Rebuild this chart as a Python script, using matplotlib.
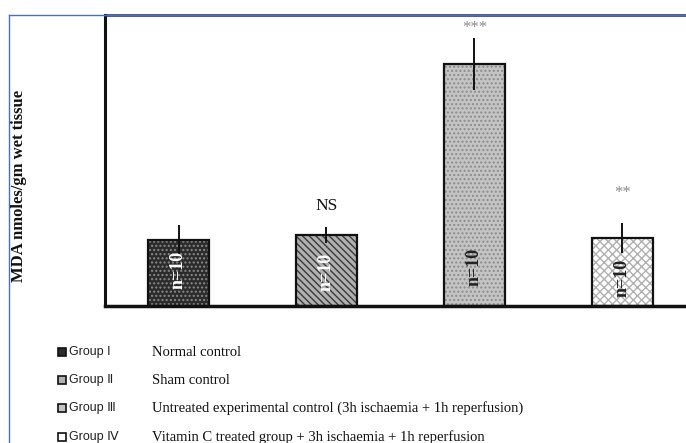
import matplotlib
matplotlib.use("Agg")
import matplotlib.pyplot as plt
from matplotlib.lines import Line2D

# ---- data ----
groups = ["Group I", "Group \u2161", "Group \u2162", "Group \u2163"]
descriptions = ["Normal control", "Sham control",
                "Untreated experimental control (3h ischaemia + 1h reperfusion)",
                "Vitamin C treated group + 3h ischaemia + 1h reperfusion"]
mda_values = [6.6, 7.1, 24.2, 6.8]
mda_errors = [1.5, 0.8, 2.6, 1.5]
sig_labels = ["", "NS", "***", "**"]
n_labels = ["n=10", "n=10", "n=10", "n=10"]

face_colors = ["#2b2b2b", "#b0b0b0", "#c4c4c4", "#ffffff"]
hatch_colors = ["#8a8a8a", "#3a3a3a", "#8c8c8c", "#b0b0b0"]
hatches = ["....", "\\\\\\\\\\", "....", "xxxx"]
n_colors = ["white", "white", "#222222", "#222222"]

serif = ["Liberation Serif", "DejaVu Serif"]

fig = plt.figure(figsize=(6.86, 4.43), dpi=100)
ax = fig.add_axes([105/686, 1-306/443, 1-105/686, (306-15)/443])

x = list(range(len(mda_values)))
width = 0.41
ax.bar(x, mda_values, width=width, color=face_colors, hatch=hatches,
       edgecolor=hatch_colors, linewidth=0, zorder=2)
ax.bar(x, mda_values, width=width, fill=False, edgecolor="#111111",
       linewidth=1.6, zorder=3)
ax.errorbar(x, mda_values, yerr=mda_errors, fmt="none", ecolor="#111111",
            elinewidth=1.4, capsize=0, zorder=4)

ax.set_xlim(-0.497, 3.43)
ax.set_ylim(0, 29.1)
ax.set_xticks([])
ax.set_yticks([])
ax.spines["right"].set_visible(False)
ax.spines["top"].set_color("#1a2a5a")
ax.spines["top"].set_linewidth(1.8)
ax.spines["left"].set_linewidth(2.2)
ax.spines["bottom"].set_linewidth(2.5)
ax.spines["left"].set_color("#111111")
ax.spines["bottom"].set_color("#111111")

# significance labels
sig_offsets = [0, 2.1, 1.0, 3.0]
for xi, v, e, lab, off in zip(x, mda_values, mda_errors, sig_labels, sig_offsets):
    if not lab:
        continue
    if lab == "NS":
        ax.text(xi, v + e + off, lab, ha="center", va="center",
                fontsize=12.5, family=serif, color="#111111")
    else:
        ax.text(xi, v + e + off, lab, ha="center", va="center",
                fontsize=12, family=serif, color="#8a8a8a")

# n labels inside bars
n_pos = [3.6, 3.4, 3.9, 2.8]
for xi, lab, c, yp in zip(x, n_labels, n_colors, n_pos):
    ax.text(xi, yp, lab, rotation=90, ha="center", va="center",
            fontsize=13, fontweight="bold", family=serif, color=c, zorder=5)

# y label
fig.text(19/686, 1-186/443, "MDA nmoles/gm wet tissue", rotation=90,
         ha="center", va="center", family=serif, fontweight="bold",
         fontsize=12, color="#111111")

# figure border lines (blue)
fig.add_artist(Line2D([9/686, 1], [1-15/443, 1-15/443], color="#4a6fc0",
                      linewidth=1.0, transform=fig.transFigure))
fig.add_artist(Line2D([9/686, 9/686], [0, 1-15/443], color="#4a6fc0",
                      linewidth=1.0, transform=fig.transFigure))

# custom legend
rows_y = [352, 380, 408, 437]
for g, d, fc, yy in zip(groups, descriptions, face_colors, rows_y):
    yf = 1 - yy/443
    sq = plt.Rectangle((58/686, yf - 4/443), 8/686, 8/443,
                       transform=fig.transFigure, facecolor=fc,
                       edgecolor="#111111", linewidth=1.2)
    fig.add_artist(sq)
    fig.text(69/686, yf, g, ha="left", va="center", fontsize=9,
             family=["Liberation Sans Narrow", "Liberation Sans", "DejaVu Sans"],
             color="#222222")
    fig.text(152/686, yf, d, ha="left", va="center", fontsize=10.5,
             family=serif, color="#111111")

fig.savefig("out.png", dpi=100)
